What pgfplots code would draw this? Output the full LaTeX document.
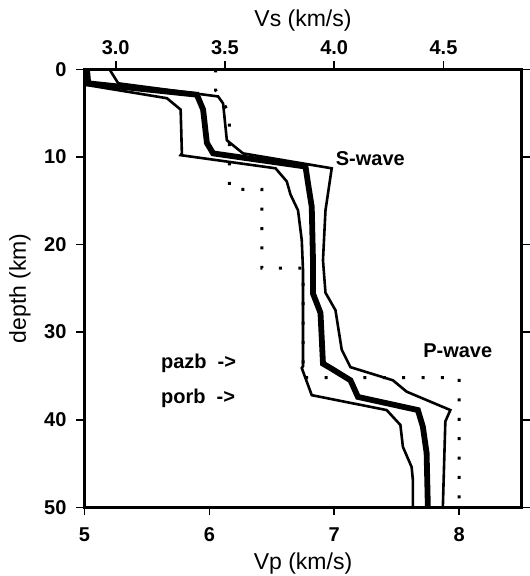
\documentclass[border=0pt]{standalone}
\usepackage{fontspec}
\setmainfont{Liberation Sans}
\usepackage{pgfplots}
\pgfplotsset{compat=1.18}
\begin{document}
\begin{tikzpicture}
\begin{axis}[
  at={(0,0)}, anchor=south west,
  scale only axis, width=218.5pt, height=219pt,
  xmin=5, xmax=8.5, ymin=0, ymax=50, y dir=reverse,
  xtick={5,6,7,8}, ytick={0,10,20,30,40,50},
  xtick pos=bottom, ytick pos=both, yticklabel pos=left,
  tick align=outside, major tick length=4pt,
  axis line style={line width=1.6pt},
  every tick/.style={black, line width=0.8pt},
  tick label style={font=\fontsize{10}{12}\selectfont\bfseries},
  xticklabel style={yshift=-2.5pt},
  yticklabel style={xshift=-1.5pt},
  /pgf/number format/assume math mode=true,
  xlabel={Vp (km/s)}, ylabel={depth (km)},
  label style={font=\fontsize{11.5}{13}\selectfont},
  xlabel style={at={(axis description cs:0.5,-0.1274)}, anchor=center},
  ylabel style={at={(axis description cs:-0.148,0.5)}, anchor=center, rotate=0},
  clip=false,
]
\addplot[black, line width=1.3pt] coordinates {
(5.00,0)(5.02,1.8)(5.66,3.3)(5.77,4.6)(5.78,9.6)(5.77,9.8)(6.53,11.3)(6.62,12.8)(6.65,14.3)(6.71,16.1)(6.74,19.5)(6.75,22.9)(6.75,33.9)(6.74,34.1)(6.82,37.2)(7.42,38.9)(7.53,40.6)(7.55,43.1)(7.62,45.4)(7.63,46.9)(7.63,50)};
\addplot[black, line width=1.3pt] coordinates {
(5.20,0)(5.27,1.6)(6.07,3.1)(6.11,3.9)(6.14,8.1)(6.27,9.6)(6.98,11.3)(6.93,16.1)(6.91,21.8)(6.93,25.5)(7.01,27.5)(7.06,32.0)(7.13,34.0)(7.47,35.5)(7.58,36.8)(7.93,38.9)(7.89,40.2)(7.87,50)};
\addplot[black, line width=2.9pt] coordinates {
(5.02,0)(5.03,1.6)(5.90,2.9)(5.95,4.6)(5.98,8.4)(6.03,9.6)(6.77,11.1)(6.79,13.0)(6.82,15.7)(6.83,21.8)(6.83,25.6)(6.89,27.8)(6.91,33.6)(6.97,34.1)(7.13,35.5)(7.19,37.4)(7.67,38.9)(7.71,40.8)(7.74,43.8)(7.75,50)};
\addplot[black, line width=1.5pt, dash pattern=on 1.5pt off 8.2pt] coordinates {
(6.05,0)(6.05,2.4)(6.16,5.0)(6.16,13.7)(6.42,13.7)(6.42,22.7)(6.75,22.7)(6.75,35.2)(8.0,35.2)(8.0,50)};
\node[anchor=west, inner sep=0pt, font=\fontsize{10}{12}\selectfont\bfseries] at (axis cs:7.01,10.2) {S-wave};
\node[anchor=west, inner sep=0pt, font=\fontsize{10}{12}\selectfont\bfseries] at (axis cs:7.71,32.1) {P-wave};
\node[anchor=base west, inner sep=0pt, font=\fontsize{10}{12}\selectfont\bfseries] at (axis cs:5.61,34.2) {pazb\ \ ->};
\node[anchor=base west, inner sep=0pt, font=\fontsize{10}{12}\selectfont\bfseries] at (axis cs:5.61,38.2) {porb\ \ ->};
\end{axis}
\begin{axis}[
  at={(0,0)}, anchor=south west,
  scale only axis, width=218.5pt, height=219pt,
  xmin=2.857142857, xmax=4.857142857, ymin=0, ymax=50, y dir=reverse,
  axis x line*=top, hide y axis,
  xtick={3,3.5,4,4.5}, xticklabels={3.0,3.5,4.0,4.5},
  tick align=outside, major tick length=4pt,
  axis line style={line width=1.6pt, -},
  every tick/.style={black, line width=0.8pt},
  tick label style={font=\fontsize{10}{12}\selectfont\bfseries},
  xlabel={Vs (km/s)},
  label style={font=\fontsize{11.5}{13}\selectfont},
  xlabel style={at={(axis description cs:0.5,1.1103)}, anchor=center},
]
\end{axis}
\pgfresetboundingbox
\path[use as bounding box] (-42.25pt,-34.35pt) rectangle (222.3pt,253.65pt);
\end{tikzpicture}
\end{document}
